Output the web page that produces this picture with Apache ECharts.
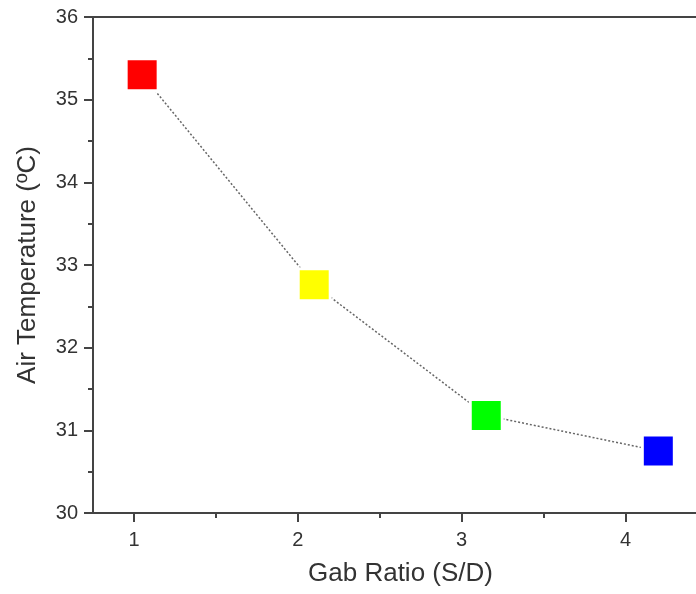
<!DOCTYPE html>
<html>
<head>
<meta charset="utf-8">
<script src="https://cdn.jsdelivr.net/npm/echarts@6/dist/echarts.min.js"></script>
<style>html,body{margin:0;padding:0;background:#fff;}#c{width:696px;height:594px;}</style>
</head>
<body>
<div id="c"></div>
<script>
// ---- data ----
const gapRatios = [1.05, 2.1, 3.15, 4.2];
const airTemps = [35.3, 32.76, 31.18, 30.75];
const pointColors = ['#ff0000', '#ffff00', '#00ff00', '#0000ff'];
const xTickValues = [1, 2, 3, 4];
const xMinorTickValues = [1.5, 2.5, 3.5];
const xTitle = 'Gab Ratio (S/D)';
const yTitle = 'Air Temperature (ºC)';

const FONT = 'Liberation Sans, Arial, sans-serif';
const AX = '#444';
const XMIN = 0.75, XMAX = 4.43;

const chart = echarts.init(document.getElementById('c'), null, {renderer: 'canvas'});
chart.setOption({
  animation: false,
  backgroundColor: '#fff',
  grid: {left: 93, right: 0, top: 17, bottom: 81, containLabel: false, outerBoundsMode: 'none'},
  xAxis: [
    {
      type: 'value', position: 'bottom', min: XMIN, max: XMAX,
      name: xTitle, nameLocation: 'middle', nameGap: 48,
      nameTextStyle: {fontFamily: FONT, fontSize: 26, color: '#333', padding: [0, 0, 0, 12]},
      axisLine: {show: true, onZero: false, lineStyle: {color: AX, width: 2}},
      axisTick: {show: true, customValues: xTickValues, length: 9, lineStyle: {color: AX, width: 2}},
      axisLabel: {customValues: xTickValues, margin: 17, fontFamily: FONT, fontSize: 20, color: '#333'},
      splitLine: {show: false}
    },
    {
      type: 'value', position: 'top', min: XMIN, max: XMAX,
      axisLine: {show: true, onZero: false, lineStyle: {color: AX, width: 2}},
      axisTick: {show: false}, axisLabel: {show: false}, splitLine: {show: false}
    },
    {
      type: 'value', position: 'bottom', min: XMIN, max: XMAX,
      axisLine: {show: false, onZero: false},
      axisTick: {show: true, customValues: xMinorTickValues, length: 5, lineStyle: {color: AX, width: 2}},
      axisLabel: {show: false}, splitLine: {show: false}
    }
  ],
  yAxis: {
    type: 'value', min: 30, max: 36, interval: 1,
    name: yTitle, nameLocation: 'middle', nameGap: 52, nameRotate: 90,
    nameTextStyle: {fontFamily: FONT, fontSize: 26, color: '#333'},
    axisLine: {show: true, onZero: false, lineStyle: {color: AX, width: 2}},
    axisTick: {show: true, length: 9, lineStyle: {color: AX, width: 2}},
    minorTick: {show: true, splitNumber: 2, length: 5, lineStyle: {color: AX, width: 2}},
    axisLabel: {margin: 15, fontFamily: FONT, fontSize: 20, color: '#333'},
    splitLine: {show: false}
  },
  series: [{
    type: 'line',
    xAxisIndex: 0,
    data: gapRatios.map((x, i) => [x, airTemps[i]]),
    symbol: 'rect',
    symbolSize: 32,
    lineStyle: {color: '#666', width: 1.5, type: [2, 2]},
    itemStyle: {
      color: p => pointColors[p.dataIndex],
      borderColor: '#fff', borderWidth: 3
    },
    emphasis: {disabled: true}
  }]
});
</script>
</body>
</html>
